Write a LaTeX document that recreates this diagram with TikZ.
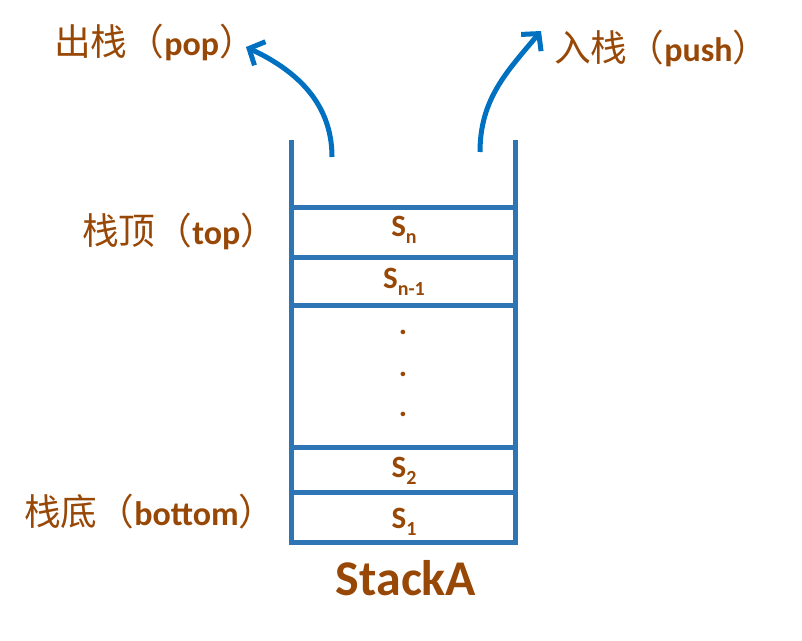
\documentclass[tikz,border=0pt]{standalone}
\usepackage{fontspec}
\setmainfont{Carlito}
\newfontfamily\cjk{Noto Sans CJK SC}[Scale=1.08]
\usetikzlibrary{arrows.meta,positioning,calc}
\definecolor{wallblue}{RGB}{46,117,182}
\definecolor{flowblue}{RGB}{0,112,192}
\definecolor{textbrown}{RGB}{152,72,6}
\newcommand{\cellsub}[1]{\raisebox{-0.24em}{\fontsize{20}{20}\selectfont #1}}

\begin{document}
\begin{tikzpicture}[x=1pt, y=-1pt,
  wall/.style={draw=wallblue, line width=5pt},
  flow/.style={draw=flowblue, line width=5pt,
    -{Straight Barb[length=12pt, width=26pt]}},
  lbl/.style={text=textbrown, inner sep=0pt, anchor=west,
    font=\fontsize{34}{40}\selectfont},
  cell/.style={text=textbrown, font=\fontsize{31}{36}\selectfont\bfseries}]
  \useasboundingbox (0,0) rectangle (802,640);

  % the stack
  \draw[wall] (291,140) -- (291,542) -- (515,542) -- (515,140);
  \foreach \y in {207,257,305,447,492}
    \draw[wall] (291,\y) -- (515,\y);

  \node[cell, anchor=base] (sn) at (404,236) {S\cellsub{n}};
  \node[cell, anchor=base] (snm) at (404,288) {S\cellsub{n-1}};
  \foreach \y [count=\i] in {332,374,414}
    \node[cell] (dot\i) at (403,\y) {.};
  \node[cell, anchor=base] (stwo) at (404,477) {S\cellsub{2}};
  \node[cell, anchor=base] (sone) at (404,528) {S\cellsub{1}};

  \node[text=textbrown, font=\fontsize{50}{56}\selectfont\bfseries] (name) at (406,578) {StackA};

  % labels
  \node[lbl] (pop) at (54,42) {{\cjk 出栈（}\textbf{pop}{\cjk ）}};
  \node[lbl] (push) at (554,48) {{\cjk 入栈（}\textbf{push}{\cjk ）}};
  \node[lbl] (top) at (82,231) {{\cjk 栈顶（}\textbf{top}{\cjk ）}};
  \node[lbl] (bottom) at (24,512) {{\cjk 栈底（}\textbf{bottom}{\cjk ）}};

  % in and out
  \coordinate (popfrom) at (332,157);
  \coordinate (popto) at (246,47);
  \coordinate (pushfrom) at (480,152);
  \coordinate (pushto) at (541,31);
  \draw[flow] (popfrom) to[out=90, in=-25] (popto);
  \draw[flow] (pushfrom) to[out=90, in=230] (pushto);
\end{tikzpicture}
\end{document}
